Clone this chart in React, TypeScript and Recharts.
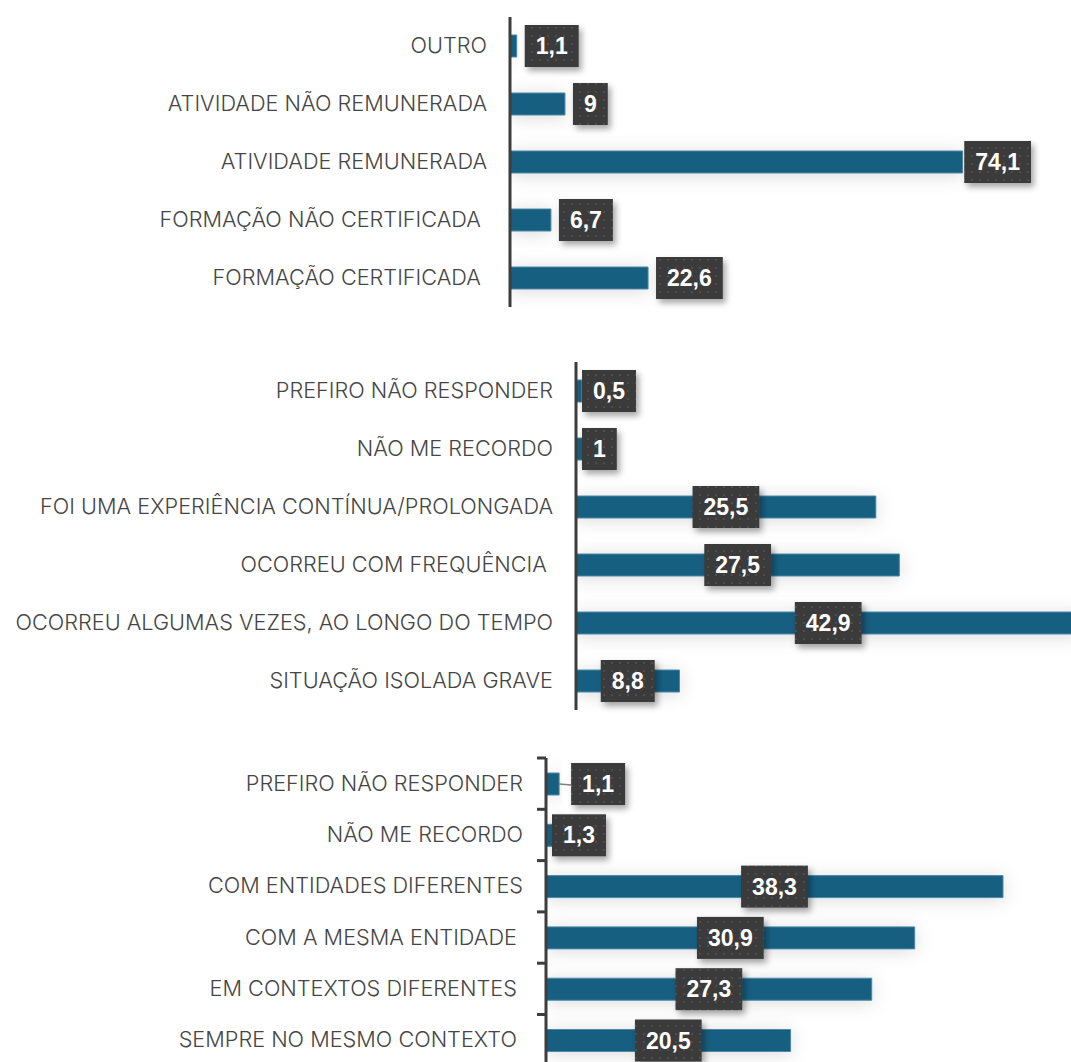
import React from 'react';
import { BarChart, Bar, XAxis, YAxis, LabelList } from 'recharts';

const BAR_COLOR = '#175f81';
const AXIS_COLOR = '#3d3d3d';
const CAT_FONT = 'Inter, "Open Sans", sans-serif';
const VALUE_FONT = '"Liberation Sans", Arial, sans-serif';

// chart 1 — situação
const situacaoLabels = [
  'OUTRO',
  'ATIVIDADE NÃO REMUNERADA',
  'ATIVIDADE REMUNERADA',
  'FORMAÇÃO NÃO CERTIFICADA ',
  'FORMAÇÃO CERTIFICADA ',
];
const situacaoValues = [1.1, 9, 74.1, 6.7, 22.6];

// chart 2 — frequência
const frequenciaLabels = [
  'PREFIRO NÃO RESPONDER',
  'NÃO ME RECORDO',
  'FOI UMA EXPERIÊNCIA CONTÍNUA/PROLONGADA',
  'OCORREU COM FREQUÊNCIA ',
  'OCORREU ALGUMAS VEZES, AO LONGO DO TEMPO',
  'SITUAÇÃO ISOLADA GRAVE',
];
const frequenciaValues = [0.5, 1, 25.5, 27.5, 42.9, 8.8];

// chart 3 — contexto
const contextoLabels = [
  'PREFIRO NÃO RESPONDER',
  'NÃO ME RECORDO',
  'COM ENTIDADES DIFERENTES',
  'COM A MESMA ENTIDADE ',
  'EM CONTEXTOS DIFERENTES ',
  'SEMPRE NO MESMO CONTEXTO ',
];
const contextoValues = [1.1, 1.3, 38.3, 30.9, 27.3, 20.5];

const fmt = (v: number) => String(v).replace('.', ',');

const VALUE_SIZE = 23;
const textWidth = (s: string) =>
  s.split('').reduce((w, c) => w + (c === ',' ? 0.278 : 0.556) * VALUE_SIZE, 0);

function CategoryTick(props: any) {
  const { y, payload, axisX, band, bracket, isLast } = props;
  return (
    <g>
      <text
        x={axisX - 23}
        y={y}
        dy={7}
        textAnchor="end"
        fill="#454545"
        fontSize={21.7}
        fontWeight={350}
        fontFamily={CAT_FONT}
        xmlSpace="preserve"
      >
        {payload.value}
      </text>
      {bracket && (
        <line x1={axisX - 9} x2={axisX} y1={y - band / 2} y2={y - band / 2} stroke={AXIS_COLOR} strokeWidth={3} />
      )}
      {bracket && isLast && (
        <line x1={axisX - 9} x2={axisX} y1={y + band / 2} y2={y + band / 2} stroke={AXIS_COLOR} strokeWidth={3} />
      )}
    </g>
  );
}

function ValueBox(props: any) {
  const { x, y, width, height, value, index, placement, leaders, id, plotRight } = props;
  const text = fmt(Number(value));
  const w = textWidth(text) + 22;
  const h = 42;
  const cy = y + height / 2;
  const barEnd = x + width;
  let bx: number;
  let leader = null;
  if (leaders && leaders.includes(index)) {
    bx = barEnd + 12;
    leader = <line x1={barEnd} y1={cy} x2={bx} y2={cy + 1} stroke="#7f7f7f" strokeWidth={1.5} />;
  } else if (placement === 'end') {
    bx = Math.min(barEnd + 8, plotRight - w);
  } else if (width > w + 10) {
    bx = x + width / 2 - w / 2;
  } else {
    bx = x + 6;
  }
  return (
    <g>
      {leader}
      <rect x={bx} y={cy - h / 2} width={w} height={h} fill={`url(#dots-${id})`} filter={`url(#shadow-${id})`} />
      <text
        x={bx + w / 2}
        y={cy}
        dy={8}
        textAnchor="middle"
        fill="#ffffff"
        fontSize={VALUE_SIZE}
        fontWeight={700}
        fontFamily={VALUE_FONT}
      >
        {text}
      </text>
    </g>
  );
}

interface PanelProps {
  id: string;
  labels: string[];
  values: number[];
  top: number;
  height: number;
  axisX: number;
  plotRight: number;
  plotTop: number;
  band: number;
  domainMax: number;
  placement: 'end' | 'center';
  bracket?: boolean;
  leaders?: number[];
}

function Panel(props: PanelProps) {
  const { id, labels, values, top, height, axisX, plotRight, plotTop, band, domainMax, placement, bracket, leaders } =
    props;
  const data = labels.map((name, i) => ({ name, value: values[i] }));
  const plotH = band * labels.length;
  return (
    <div style={{ position: 'absolute', left: 0, top }}>
      <BarChart
        width={1071}
        height={height}
        data={data}
        layout="vertical"
        margin={{ top: plotTop, right: 1071 - plotRight, left: 0, bottom: height - plotTop - plotH }}
        barCategoryGap={0}
      >
        <defs>
          <pattern id={`dots-${id}`} width={8} height={8} patternUnits="userSpaceOnUse">
            <rect width={8} height={8} fill="#3a3a3a" />
            <circle cx={4} cy={4} r={1.1} fill="#525252" />
          </pattern>
          <filter id={`shadow-${id}`} x="-20%" y="-20%" width="150%" height="160%">
            <feDropShadow dx={3} dy={4} stdDeviation={3} floodColor="#000" floodOpacity={0.35} />
          </filter>
          <filter id={`glow-${id}`} x="-10%" y="-150%" width="130%" height="400%">
            <feDropShadow dx={0} dy={2} stdDeviation={9} floodColor="#000" floodOpacity={0.14} />
          </filter>
        </defs>
        <XAxis type="number" hide domain={[0, domainMax]} allowDataOverflow />
        <YAxis
          type="category"
          dataKey="name"
          width={axisX}
          axisLine={{ stroke: AXIS_COLOR, strokeWidth: 3 }}
          tickLine={false}
          interval={0}
          tick={(p: any) => (
            <CategoryTick {...p} axisX={axisX} band={band} bracket={bracket} isLast={p.index === labels.length - 1} />
          )}
        />
        <Bar
          dataKey="value"
          fill={BAR_COLOR}
          stroke="#4d88a5"
          strokeWidth={1}
          barSize={22}
          filter={`url(#glow-${id})`}
          isAnimationActive={false}
        >
          <LabelList
            dataKey="value"
            content={(p: any) => (
              <ValueBox {...p} placement={placement} leaders={leaders} id={id} plotRight={plotRight} />
            )}
          />
        </Bar>
      </BarChart>
    </div>
  );
}

export default function App() {
  return (
    <div
      style={{
        position: 'absolute',
        left: 0,
        top: 0,
        width: 1071,
        height: 1062,
        overflow: 'hidden',
        background: '#ffffff',
      }}
    >
      <Panel
        id="a"
        labels={situacaoLabels}
        values={situacaoValues}
        top={0}
        height={320}
        axisX={510}
        plotRight={1031}
        plotTop={17}
        band={58}
        domainMax={85.3}
        placement="end"
      />
      <Panel
        id="b"
        labels={frequenciaLabels}
        values={frequenciaValues}
        top={355}
        height={365}
        axisX={576}
        plotRight={1071}
        plotTop={7}
        band={58}
        domainMax={42.1}
        placement="center"
      />
      <Panel
        id="c"
        labels={contextoLabels}
        values={contextoValues}
        top={750}
        height={320}
        axisX={546}
        plotRight={1071}
        plotTop={8}
        band={51.3}
        domainMax={44}
        placement="center"
        bracket
        leaders={[0]}
      />
    </div>
  );
}
